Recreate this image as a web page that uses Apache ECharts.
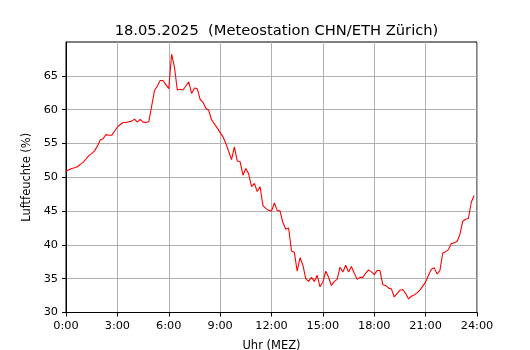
<!DOCTYPE html>
<html>
<head>
<meta charset="utf-8">
<script src="https://cdn.jsdelivr.net/npm/echarts@6/dist/echarts.min.js"></script>
<style>html,body{margin:0;padding:0;background:#fff}#c{width:530px;height:350px}</style>
</head>
<body>
<div id="c"></div>
<script>
const titleText = '18.05.2025  (Meteostation CHN/ETH Zürich)';
const xName = 'Uhr (MEZ)';
const yName = 'Luftfeuchte (%)';
const stepMinutes = 10;
const xTicks = ['0:00','3:00','6:00','9:00','12:00','15:00','18:00','21:00','24:00'];
const yTicks = [30, 35, 40, 45, 50, 55, 60, 65];
const humidity = [
50.9,51.1,51.3,51.4,51.55,51.9,52.2,52.7,53.2,53.5,53.9,54.6,
55.5,55.7,56.3,56.2,56.2,56.8,57.4,57.8,58.1,58.1,58.2,58.3,
58.6,58.15,58.55,58.15,58.1,58.2,60.5,62.8,63.5,64.3,64.3,63.7,
63.1,68.2,66.3,62.9,63.0,62.9,63.5,64.1,62.4,63.2,63.1,61.5,
61.1,60.2,59.9,58.5,57.9,57.3,56.6,56.0,55.0,53.8,52.6,54.5,
52.4,52.3,50.3,51.3,50.5,48.6,49.1,47.9,48.6,45.8,45.4,45.1,
45.0,46.2,45.1,45.0,43.3,42.3,42.5,39.1,38.9,36.1,38.1,37.0,
35.0,34.6,35.2,34.6,35.5,33.8,34.5,36.1,35.2,34.0,34.6,34.9,
36.7,36.0,37.0,36.0,36.8,35.8,34.9,35.2,35.2,35.8,36.3,36.0,
35.6,36.2,36.2,34.1,34.0,33.6,33.5,32.3,32.8,33.3,33.4,32.8,
32.0,32.4,32.6,32.9,33.3,33.9,34.5,35.5,36.4,36.6,35.7,36.2,
38.8,39.0,39.3,40.2,40.3,40.5,41.5,43.5,43.8,43.9,46.3,47.3
];
const seriesData = humidity.map((v, i) => [i * stepMinutes / 60, v]);

const chart = echarts.init(document.getElementById('c'), null, {renderer: 'canvas'});
chart.setOption({
  animation: false,
  backgroundColor: '#fff',
  title: {
    text: titleText, left: 271.5, top: 19, textAlign: 'center',
    textStyle: {fontFamily: 'DejaVu Sans', fontSize: 14.7, fontWeight: 'normal', color: '#000'}
  },
  grid: {left: 66, right: 53, top: 42, bottom: 37.5, outerBoundsMode: 'none', containLabel: false,
    show: true, borderColor: '#000', borderWidth: 1, backgroundColor: 'transparent'},
  xAxis: {
    type: 'value', min: 0, max: 24, interval: 3,
    name: xName, nameLocation: 'middle', nameGap: 27.5,
    nameTextStyle: {fontFamily: 'DejaVu Sans', fontSize: 11.5, color: '#000'},
    axisLine: {show: true, lineStyle: {color: '#000', width: 1}},
    axisTick: {show: true, length: 4, lineStyle: {color: '#000'}},
    axisLabel: {fontFamily: 'DejaVu Sans', fontSize: 11.3, color: '#000', margin: 8,
      formatter: v => xTicks[Math.round(v / 3)]},
    splitLine: {show: true, lineStyle: {color: '#b0b0b0', width: 1}}
  },
  yAxis: {
    type: 'value', min: 30, max: 70, interval: 5,
    name: yName, nameLocation: 'middle', nameGap: 33,
    nameTextStyle: {fontFamily: 'DejaVu Sans', fontSize: 11.5, color: '#000'},
    axisLine: {show: true, lineStyle: {color: '#000', width: 1}},
    axisTick: {show: true, length: 4, lineStyle: {color: '#000'}, customValues: yTicks},
    axisLabel: {fontFamily: 'DejaVu Sans', fontSize: 11.3, color: '#000', margin: 8,
      customValues: yTicks, formatter: v => String(v)},
    splitLine: {show: true, lineStyle: {color: '#b0b0b0', width: 1}}
  },
  series: [{
    type: 'line', data: seriesData, showSymbol: false, symbol: 'none',
    lineStyle: {color: '#ff0000', width: 1.1}, z: 3
  }]
});
</script>
</body>
</html>
